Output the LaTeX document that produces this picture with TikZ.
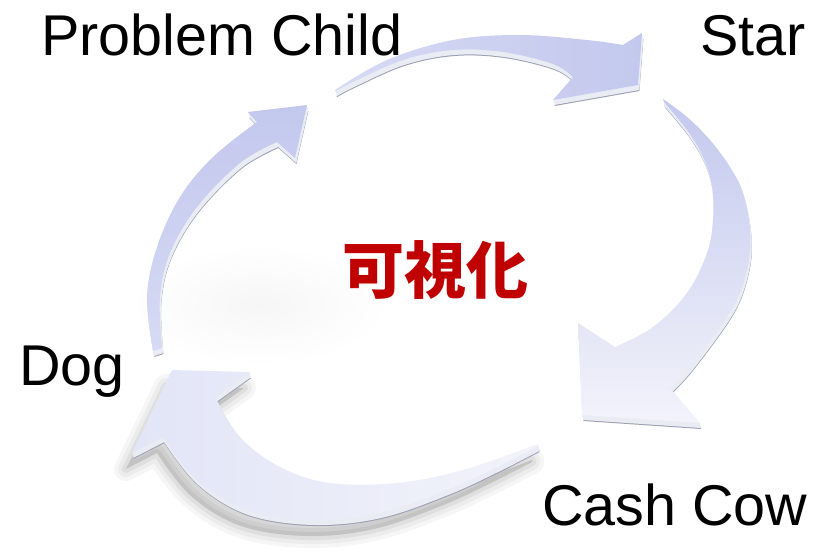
\documentclass[tikz,border=0pt]{standalone}
\usepackage{fontspec}
\setmainfont{Liberation Sans}
\newfontfamily\cjk{Noto Sans CJK JP}
\definecolor{rimc}{HTML}{9A9EB2}
\definecolor{sidec}{HTML}{EAECF3}
\definecolor{lavA}{HTML}{C3C8EE}
\definecolor{lavB}{HTML}{D6DAF4}
\definecolor{lavC}{HTML}{F2F3FA}
\definecolor{lavD}{HTML}{E2E5F7}
\definecolor{redc}{HTML}{C00000}
\def\arrL{plot[smooth,tension=0.6] coordinates {(153,351) (147,297) (157,247) (180,197) (213,157) (257,122)} -- (248,112) -- (307,105) -- (295,158) -- plot[smooth,tension=0.6] coordinates {(277,142) (240,163) (197,207) (170,253) (160,297) (162,348)} -- cycle}
\def\arrT{plot[smooth,tension=0.6] coordinates {(335,90) (387,60) (453,40) (520,35) (587,40) (623,45)} -- (642,33) -- (638,85) -- (553,100) -- plot[smooth,tension=0.6] coordinates {(573,77) (553,64) (503,52) (453,50) (403,60) (353,82) (336,91)} -- cycle}
\def\arrR{plot[smooth,tension=0.6] coordinates {(663,99) (687,117) (710,140) (730,167) (743,193) (750,230) (748,265) (733,307) (693,363) (670,388)} -- (700,423) -- (582,415) -- (578,323) -- plot[smooth,tension=0.6] coordinates {(615,347) (653,327) (687,293) (707,253) (713,220) (712,187) (703,157) (687,130) (664,102)} -- cycle}
\def\arrB{plot[smooth,tension=0.6] coordinates {(538,446) (497,467) (447,490) (380,513) (313,520) (247,510) (197,480) (163,437)} -- (132,453) -- (172,370) -- (250,372) -- plot[smooth,tension=0.6] coordinates {(215,397) (240,437) (280,467) (330,483) (397,483) (463,470) (538,444)} -- cycle}
\begin{document}
\begin{tikzpicture}[x=1pt,y=-1pt,
  lbl/.style={inner sep=0pt, text=black, font={\fontsize{57.5}{62}\selectfont}},
  ctr/.style={inner sep=0pt, text=redc, font={\cjk\bfseries\fontsize{62}{62}\selectfont}},
  shadowpass/.style={draw=black, fill=black, line join=round, opacity=#1}]
\fill[white] (0,0) rectangle (814,550);
\useasboundingbox (0,0) rectangle (814,550);
% faint glow inside the ring
\shade[inner color=black!3.5, outer color=white] (260,305) ellipse [x radius=130, y radius=60];
% soft shadow below the bottom arrow
\begin{scope}[shift={(-6,16)}]
  \foreach \w/\o in {24/0.035, 16/0.04, 8/0.05}{
    \path[shadowpass=\o, line width=\w] \arrB;
  }
\end{scope}
% extrusion (side faces)
\foreach \a in {\arrL,\arrT,\arrR,\arrB}{
  \fill[rimc, shift={(1.4,6)}] \a;
  \foreach \d in {1,...,5}{ \fill[sidec, shift={(0.25*\d,\d)}] \a; }
}
% top faces
\shade[top color=lavA, bottom color=lavB] \arrL;
\shade[left color=lavB, right color=lavA] \arrT;
\shade[top color=lavA, bottom color=lavC] \arrR;
\shade[left color=lavD, right color=lavC] \arrB;
% labels
\node[lbl, anchor=base west] (pc) at (41,55) {Problem Child};
\node[lbl, anchor=base east] (star) at (806,55) {Star};
\node[lbl, anchor=base west] (dog) at (19,385) {Dog};
\node[lbl, anchor=base west] (cc) at (542,525) {Cash Cow};
\node[ctr] (kashika) at (435,270) {可視化};
\end{tikzpicture}
\end{document}
